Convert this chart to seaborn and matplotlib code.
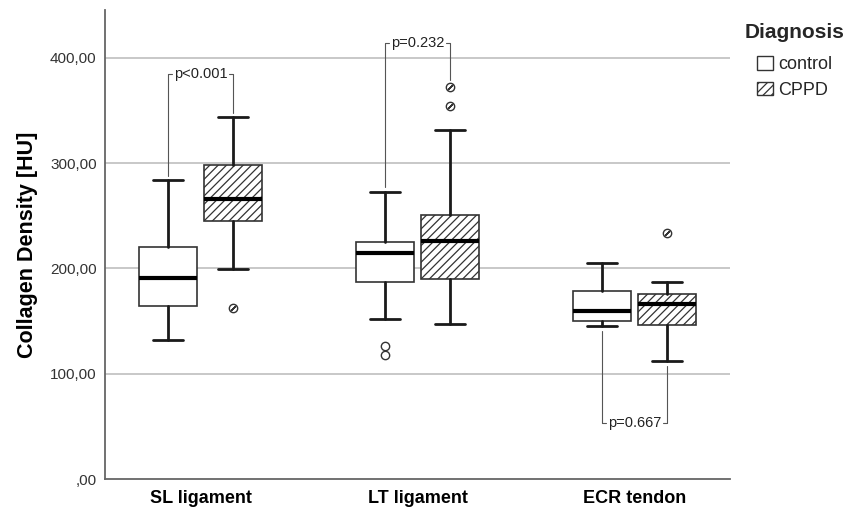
import numpy as np
import matplotlib.pyplot as plt
import seaborn as sns
from matplotlib.patches import Patch
from matplotlib.ticker import FuncFormatter

# categories
regions = ['SL ligament', 'LT ligament', 'ECR tendon']
groups = ['control', 'CPPD']

# box summaries (HU), one value per region
ctrl_whislo = [132, 152, 145]
ctrl_q1 = [164, 187, 150]
ctrl_med = [191, 215, 159.5]
ctrl_q3 = [220, 225, 178.5]
ctrl_whishi = [284, 273, 205]
ctrl_fliers = [[], [126, 118], []]

cppd_whislo = [199, 147, 112]
cppd_q1 = [245, 190, 146]
cppd_med = [266, 226, 166]
cppd_q3 = [298, 251, 175.5]
cppd_whishi = [344, 331, 187]
cppd_fliers = [[162], [354, 372], [233.5]]

# significance brackets
p_labels = ['p<0.001', 'p=0.232', 'p=0.667']
bracket_y = [385, 414, 53]

y_ticks = [0, 100, 200, 300, 400]


def make_stats(lo, q1, med, q3, hi, fl):
    return [dict(whislo=a, q1=b, med=c, q3=d, whishi=e, fliers=f)
            for a, b, c, d, e, f in zip(lo, q1, med, q3, hi, fl)]


def fmt_tick(v, _):
    # SPSS style: comma decimal, ",00" for zero
    s = f'{v:.2f}'.replace('.', ',')
    return s[1:] if v == 0 else s


sns.set_theme(style='white')
plt.rcParams['font.family'] = ['Liberation Sans', 'DejaVu Sans']
plt.rcParams['hatch.linewidth'] = 0.9

fig = plt.figure(figsize=(8.6, 5.09), dpi=100)
ax = fig.add_axes([0.1221, 0.0589, 0.7267, 0.9215])

offset, width = 0.15, 0.27
dark = '#333333'
x = np.arange(len(regions))

ctrl_stats = make_stats(ctrl_whislo, ctrl_q1, ctrl_med, ctrl_q3, ctrl_whishi, ctrl_fliers)
cppd_stats = make_stats(cppd_whislo, cppd_q1, cppd_med, cppd_q3, cppd_whishi, cppd_fliers)

common = dict(
    widths=width, patch_artist=True, manage_ticks=False,
    boxprops=dict(edgecolor=dark, linewidth=1.2, facecolor='white'),
    whiskerprops=dict(color='#1a1a1a', linewidth=2),
    capprops=dict(color='#1a1a1a', linewidth=2),
    medianprops=dict(color='black', linewidth=3),
    flierprops=dict(marker='o', markersize=6, markerfacecolor='white',
                    markeredgecolor=dark, markeredgewidth=1),
    capwidths=width * 0.5,
)

ax.bxp(ctrl_stats, positions=x - offset, **common)
bp = ax.bxp(cppd_stats, positions=x + offset, **common)
for box in bp['boxes']:
    box.set_hatch('////')

# slash inside the CPPD outlier circles
for i, fl in enumerate(cppd_fliers):
    if fl:
        ax.plot([x[i] + offset] * len(fl), fl, linestyle='none',
                marker=(2, 2, -45), markersize=5, mec=dark, mew=1, zorder=4)

# p-value brackets
for i, (lab, by) in enumerate(zip(p_labels, bracket_y)):
    xl, xr = x[i] - offset, x[i] + offset
    if by > ctrl_whishi[i]:
        lt = max([ctrl_whishi[i]] + ctrl_fliers[i])
        rt = max([cppd_whishi[i]] + cppd_fliers[i])
        le = lt + (4 if lt == ctrl_whishi[i] else 7)
        re = rt + (4 if rt == cppd_whishi[i] else 7)
    else:
        lt = min([ctrl_whislo[i]] + ctrl_fliers[i])
        rt = min([cppd_whislo[i]] + cppd_fliers[i])
        le, re = lt - 4, rt - 5
    kw = dict(color='#555555', lw=0.8, zorder=3)
    ax.plot([xl, xl, xl + 0.02], [le, by, by], **kw)
    ax.plot([xr - 0.02, xr, xr], [by, by, re], **kw)
    ax.text(x[i], by, lab, ha='center', va='center', fontsize=10.5, color='#222222')

# axes styling
ax.set_xlim(-0.44, 2.44)
ax.set_ylim(0, 445.4)
ax.set_yticks(y_ticks)
ax.yaxis.set_major_formatter(FuncFormatter(fmt_tick))
ax.set_xticks(x)
ax.set_xticklabels(regions, fontsize=13, fontweight='bold')
ax.tick_params(axis='x', length=0, pad=8, colors='black')
ax.tick_params(axis='y', length=4, width=1, direction='out', labelsize=11,
               colors='#555555', labelcolor='#333333', pad=2)
for yv in y_ticks[1:]:
    ax.axhline(yv, color='#c4c4c4', lw=1.3, zorder=0)

sns.despine(ax=ax)
for side in ['left', 'bottom']:
    ax.spines[side].set_color('#666666')
    ax.spines[side].set_linewidth(1.3)

ax.set_ylabel('Collagen Density [HU]', fontsize=15.5, fontweight='bold', color='black')
ax.yaxis.set_label_coords(-0.107, 0.5)

handles = [Patch(facecolor='white', edgecolor=dark, lw=1, label=groups[0]),
           Patch(facecolor='white', edgecolor=dark, lw=1, hatch='////', label=groups[1])]
leg = fig.legend(handles=handles, loc='upper left', bbox_to_anchor=(0.851, 0.979),
                 frameon=False, title='Diagnosis', fontsize=13,
                 handlelength=0.9, handleheight=0.8, handletextpad=0.3,
                 labelspacing=0.45, borderpad=0.2)
leg.get_title().set_fontweight('bold')
leg.get_title().set_fontsize(15)
leg._legend_box.sep = 10

fig.savefig('out.png', dpi=100)
